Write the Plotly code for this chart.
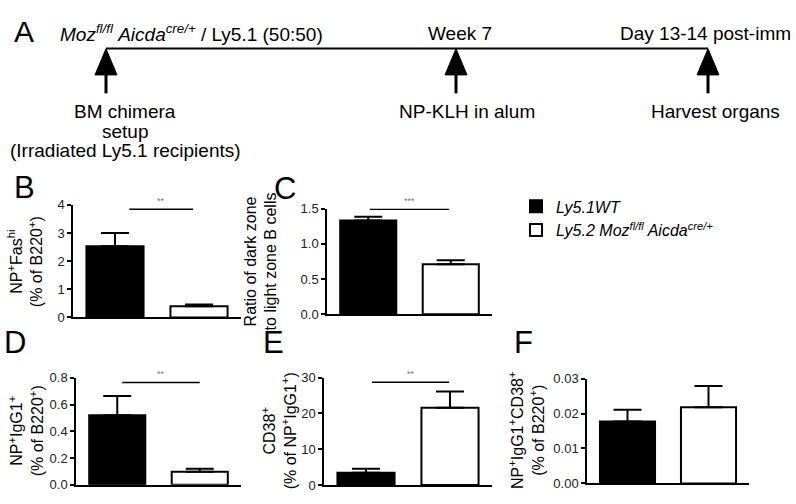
import plotly.graph_objects as go

W, H = 796, 504
FONT = "Liberation Sans, Arial, sans-serif"

# two groups in every bar panel
group_names = ["<i>Ly5.1WT</i>", "<i>Ly5.2 Moz<sup>fl/fl</sup> Aicda<sup>cre/+</sup></i>"]
group_x = [0, 1]
bar_colors = ["black", "white"]

# mean and SEM per panel
b_mean = [2.53, 0.40]
b_sem = [0.47, 0.06]
c_mean = [1.33, 0.71]
c_sem = [0.055, 0.055]
d_mean = [0.52, 0.097]
d_sem = [0.145, 0.022]
e_mean = [3.45, 21.6]
e_sem = [1.08, 4.5]
f_mean = [0.0177, 0.0218]
f_sem = [0.0034, 0.0061]

# significance marks: panel -> (x from, x to, y, label)
sig_b = (0.17, 0.93, 3.85, "**")
sig_c = (0.02, 0.98, 1.49, "***")
sig_d = (0.06, 1.0, 0.766, "**")
sig_e = (0.07, 0.99, 28.7, "**")

# timeline in panel A
timeline_top = ["<i>Moz</i><sup><i>fl/fl</i></sup> <i>Aicda</i><sup><i>cre/+</i></sup> / Ly5.1 (50:50)",
                "Week 7", "Day 13-14 post-imm"]
timeline_bottom = [["BM chimera", "setup", "(Irradiated Ly5.1 recipients)"],
                   ["NP-KLH in alum"], ["Harvest organs"]]


def px(x):
    return x / W


def py(y):
    return 1 - y / H


# pixel boxes: x left, x right, y top, y bottom
panels = [
    dict(mean=b_mean, sem=b_sem, box=(73, 241, 204, 320), top=4, dtick=1, fmt="d",
         title="NP<sup>+</sup>Fas<sup>hi</sup><br>(% of B220<sup>+</sup>)", tx=25, sig=sig_b,
         letter="B", lx=24, ly=186),
    dict(mean=c_mean, sem=c_sem, box=(327, 492, 207.7, 316.7), top=1.5, dtick=0.5, fmt=".1f",
         title="Ratio of dark zone<br>to light zone B cells", tx=261, sig=sig_c,
         letter="C", lx=285, ly=187),
    dict(mean=d_mean, sem=d_sem, box=(76, 241, 382.3, 492.3), top=0.8, dtick=0.2, fmt=".1f",
         title="NP<sup>+</sup>IgG1<sup>+</sup><br>(% of B220<sup>+</sup>)", tx=26, sig=sig_d,
         letter="D", lx=15, ly=346),
    dict(mean=e_mean, sem=e_sem, box=(324, 492, 382, 492.7), top=30, dtick=10, fmt="d",
         title="CD38<sup>+</sup><br>(% of NP<sup>+</sup>IgG1<sup>+</sup>)", tx=279, sig=sig_e,
         letter="E", lx=273, ly=346),
    dict(mean=f_mean, sem=f_sem, box=(587, 749, 383, 491), top=0.03, dtick=0.01, fmt=".2f",
         title="NP<sup>+</sup>IgG1<sup>+</sup>CD38<sup>+</sup><br>(% of B220<sup>+</sup>)", tx=527, sig=None,
         letter="F", lx=523, ly=346),
]

fig = go.Figure()
shapes = []
annotations = []
layout_axes = {}

for i, p in enumerate(panels):
    n = "" if i == 0 else str(i + 1)
    xa, ya = "x" + n, "y" + n
    x0, x1, yt, yb = p["box"]
    for g in range(2):
        fig.add_trace(go.Bar(
            x=[group_x[g]], y=[p["mean"][g]], name=group_names[g],
            xaxis=xa, yaxis=ya, width=0.68, showlegend=(i == 0),
            marker=dict(color=bar_colors[g], line=dict(color="black", width=2)),
            error_y=dict(type="data", symmetric=False, array=[p["sem"][g]], arrayminus=[0],
                         color="black", thickness=2, width=14),
        ))
    layout_axes["xaxis" + n] = dict(domain=[px(x0), px(x1)], range=[-0.5, 1.5], anchor=ya,
                                    showline=True, linecolor="black", linewidth=1.5,
                                    showticklabels=False, ticks="", showgrid=False, zeroline=False,
                                    fixedrange=True)
    layout_axes["yaxis" + n] = dict(domain=[py(yb), py(yt)], range=[0, p["top"]], anchor=xa,
                                    dtick=p["dtick"], tick0=0, tickformat=p["fmt"],
                                    showline=True, linecolor="black", linewidth=1.5,
                                    ticks="outside", ticklen=4, tickwidth=1.5, tickcolor="black",
                                    tickfont=dict(size=13, color="#222", family=FONT),
                                    showgrid=False, zeroline=False, fixedrange=True)
    annotations.append(dict(text=p["title"], x=px(p["tx"]), y=py((yt + yb) / 2), xref="paper",
                            yref="paper", textangle=-90, showarrow=False, xanchor="center",
                            yanchor="middle", font=dict(size=16, color="black", family=FONT)))
    annotations.append(dict(text=p["letter"], x=px(p["lx"]), y=py(p["ly"]), xref="paper", yref="paper",
                            showarrow=False, xanchor="center", yanchor="middle",
                            font=dict(size=31, color="black", family=FONT)))
    if p["sig"]:
        s0, s1, sy, lab = p["sig"]
        shapes.append(dict(type="line", xref=xa, yref=ya, x0=s0, x1=s1, y0=sy, y1=sy,
                           line=dict(color="black", width=1.5)))
        annotations.append(dict(text=lab, x=(s0 + s1) / 2, y=sy, xref=xa, yref=ya, showarrow=False,
                                yanchor="bottom", yshift=1, font=dict(size=9, color="#777", family=FONT)))

# panel A: timeline
arrow_x = [106, 456, 708]
line_y = 42.7
shapes.append(dict(type="line", xref="paper", yref="paper", x0=px(arrow_x[0]), x1=px(arrow_x[-1]),
                   y0=py(line_y), y1=py(line_y), line=dict(color="black", width=2)))
for ax in arrow_x:
    shapes.append(dict(type="path", xref="paper", yref="paper",
                       path=f"M {px(ax)} {py(43)} L {px(ax - 11)} {py(70)} L {px(ax + 11)} {py(70)} Z",
                       fillcolor="black", line=dict(color="black", width=1)))
    shapes.append(dict(type="line", xref="paper", yref="paper", x0=px(ax), x1=px(ax),
                       y0=py(69), y1=py(89), line=dict(color="black", width=3)))

annotations.append(dict(text="A", x=px(24), y=py(25), xref="paper", yref="paper", showarrow=False,
                        xanchor="center", yanchor="middle", font=dict(size=30, color="black", family=FONT)))
top_pos = [(58, "left"), (460, "center"), (793, "right")]
for txt, (tx, anchor) in zip(timeline_top, top_pos):
    annotations.append(dict(text=txt, x=px(tx), y=py(27), xref="paper", yref="paper", showarrow=False,
                            xanchor=anchor, yanchor="middle", font=dict(size=19, color="black", family=FONT)))
bottom_x = [125, 467, 715]
for lines, bx in zip(timeline_bottom, bottom_x):
    for k, txt in enumerate(lines):
        annotations.append(dict(text=txt, x=px(bx), y=py(108 + 20 * k), xref="paper", yref="paper",
                                showarrow=False, xanchor="center", yanchor="middle",
                                font=dict(size=19, color="black", family=FONT)))

fig.update_layout(
    width=W, height=H, margin=dict(l=0, r=0, t=0, b=0),
    paper_bgcolor="white", plot_bgcolor="white",
    barmode="overlay",
    font=dict(family=FONT, color="black"),
    legend=dict(x=px(516), y=py(188), xanchor="left", yanchor="top", bgcolor="rgba(0,0,0,0)",
                font=dict(size=16, color="black", family=FONT), tracegroupgap=0, itemclick=False),
    shapes=shapes, annotations=annotations,
    **layout_axes,
)

# drop the browser's default body margin so the figure starts at the page corner
fig.write_html("out.html", config={"displayModeBar": False},
               post_script="document.body.style.margin = '0';")
